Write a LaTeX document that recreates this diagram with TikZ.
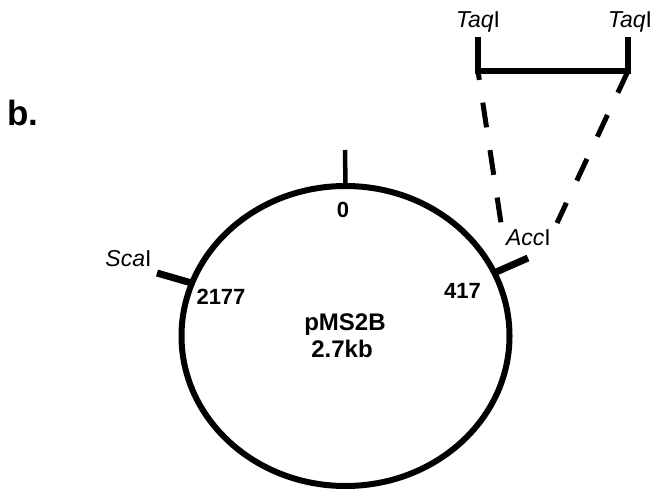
\documentclass[tikz,border=0pt]{standalone}
\usepackage{fontspec}
\setmainfont{Liberation Sans}
\usetikzlibrary{shapes.geometric}
\tikzset{
  lbl/.style={inner sep=0pt, outer sep=0pt, anchor=base, font=\fontsize{23}{26}\selectfont},
  num/.style={inner sep=0pt, outer sep=0pt, anchor=base, font=\bfseries\fontsize{22}{25}\selectfont},
  title/.style={inner sep=0pt, outer sep=0pt, anchor=base, font=\bfseries\fontsize{24}{27}\selectfont},
  tick/.style={line width=7pt},
  dashline/.style={line width=5pt},
  bracket/.style={line width=5.5pt, line join=miter}
}
\begin{document}
\begin{tikzpicture}[x=1pt,y=-1pt]
\useasboundingbox (0,0) rectangle (653,490);
% plasmid
\node[ellipse, draw, line width=6pt, minimum width=328pt, minimum height=300pt, inner sep=0pt, outer sep=0pt] (plasmid) at (345.5,336) {};
% ticks
\coordinate (toptip) at (345,150);
\coordinate (scatip) at (157,273);
\coordinate (acctip) at (528,258);
\draw[line width=4.5pt] (plasmid.north) -- (toptip);
\draw[tick] (plasmid.161.5) -- (scatip);
\draw[tick] (plasmid.23.6) -- (acctip);
% bracket
\coordinate (bl0) at (478,37);
\coordinate (bl) at (478,71);
\coordinate (br) at (628,71);
\coordinate (br0) at (628,37);
\draw[bracket] (bl0) -- (bl) -- (br) -- (br0);
% dashed lines
\coordinate (dl) at (501,223);
\coordinate (dr) at (557,223);
\draw[dashline, dash pattern=on 25pt off 23pt, dash phase=16pt] (bl) -- (dl);
\draw[dashline, dash pattern=on 24pt off 24.5pt] (br) -- (dr);
% labels
\node[lbl] (taql) at (478,27) {\textit{Taq}I};
\node[lbl] (taqr) at (630,27) {\textit{Taq}I};
\node[lbl] (sca) at (128.5,266) {\textit{Sca}I};
\node[lbl] (acc) at (528.5,245) {\textit{Acc}I};
\node[num] (n0) at (343,217) {0};
\node[num] (n2177) at (221,304) {2177};
\node[num] (n417) at (462.5,298) {417};
\node[title] (name) at (345,330) {pMS2B};
\node[title] (size) at (342,357) {2.7kb};
\node[inner sep=0pt, outer sep=0pt, anchor=base west, font=\bfseries\fontsize{35}{40}\selectfont] (b) at (7,125) {b.};
\end{tikzpicture}
\end{document}
